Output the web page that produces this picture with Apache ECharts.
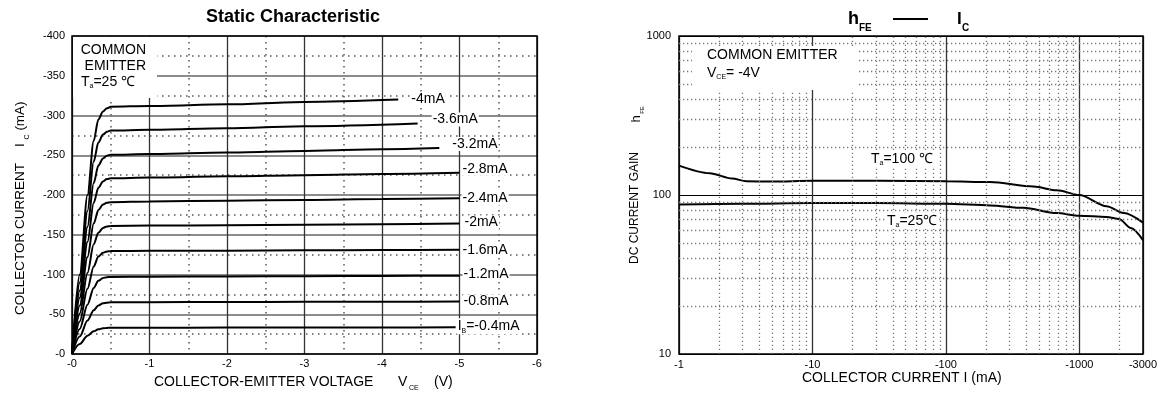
<!DOCTYPE html>
<html><head><meta charset="utf-8">
<script src="https://cdn.jsdelivr.net/npm/echarts@6/dist/echarts.min.js"></script>
<style>html,body{margin:0;padding:0;background:#fff}#c{width:1172px;height:394px}</style>
</head><body><div id="c"></div>
<script>
// ---------- LEFT: Static Characteristic (magnitudes; the datasheet shows them negative) ----------
const vceTicks = [0, 1, 2, 3, 4, 5, 6];           // -V
const icTicks = [0, 50, 100, 150, 200, 250, 300, 350, 400]; // -mA
const ibNames = ['-4mA', '-3.6mA', '-3.2mA', '-2.8mA', '-2.4mA', '-2mA', '-1.6mA', '-1.2mA', '-0.8mA', '-0.4mA'];
// [ -VCE (V), -IC (mA) ]
const ib40 = [[0,0],[0.1,100],[0.2,200],[0.28,268],[0.34,295],[0.4,305],[0.45,309],[0.5,311],[1,312],[2,314],[3,317],[4.21,320]];
const ib36 = [[0,0],[0.1,90],[0.2,180],[0.28,242],[0.34,266],[0.4,276],[0.45,279.5],[0.5,281],[1,282],[2,284],[3,286.5],[4.46,290]];
const ib32 = [[0,0],[0.1,80],[0.2,160],[0.28,215],[0.34,237],[0.4,246],[0.45,249.5],[0.5,250.5],[1,251.5],[2,253.5],[3,255.5],[4,257.5],[4.74,259]];
const ib28 = [[0,0],[0.1,71],[0.2,141],[0.28,190],[0.34,209],[0.4,217],[0.45,220],[0.5,221],[1,222],[2,223.5],[3,225],[4,226.5],[5,228]];
const ib24 = [[0,0],[0.1,61],[0.2,122],[0.28,164],[0.34,181],[0.4,188],[0.45,190.2],[0.5,191],[1,191.8],[2,192.8],[3,193.8],[4,195],[5,196]];
const ib20 = [[0,0],[0.1,51],[0.2,102],[0.28,138],[0.34,152.5],[0.4,158.5],[0.45,160.5],[0.5,161],[1,161.5],[2,162],[3,162.7],[4,163.3],[5,164]];
const ib16 = [[0,0],[0.1,41],[0.2,82],[0.28,110],[0.34,122.5],[0.4,127.5],[0.45,129],[0.5,129.5],[1,129.8],[2,130],[3,130.4],[4,130.7],[5,131]];
const ib12 = [[0,0],[0.1,31.5],[0.2,62],[0.28,83],[0.34,92],[0.4,95.5],[0.45,96.6],[0.5,97],[1,97.3],[2,97.6],[3,97.9],[4,98.2],[5,98.5]];
const ib08 = [[0,0],[0.1,22],[0.2,42],[0.28,55],[0.34,61],[0.4,63.8],[0.45,64.6],[0.5,65],[1,65.2],[2,65.4],[3,65.6],[4,65.8],[5,66]];
const ib04 = [[0,0],[0.1,12.5],[0.2,23],[0.28,28.5],[0.34,31],[0.4,32.3],[0.45,32.8],[0.5,33],[1,33.1],[2,33.2],[3,33.3],[4,33.4],[4.95,33.5]];
const leftCurves = [ib40, ib36, ib32, ib28, ib24, ib20, ib16, ib12, ib08, ib04];

// ---------- RIGHT: hFE vs IC (magnitudes of IC) ----------
const icLogTicks = [1, 10, 100, 1000, 3000];   // -mA
const hfeTicks = [10, 100, 1000];
const hfe100C = [[1,153],[1.7,137],[2.5,127],[3.2,122],[5,121.5],[10,123],[32,123],[100,122],[214,120.5],[453,113],[678,107],[1000,100],[1600,85],[2150,77],[3000,67]];
const hfe25C = [[1,87],[3,88],[10,89],[30,89],[100,88],[214,86],[381,83],[678,77],[1000,74],[1600,72.8],[2000,70.5],[2430,62],[3000,52]];
const minorIc = [2,3,4,5,6,7,8,9,20,30,40,50,60,70,80,90,200,300,400,500,600,700,800,900,2000];
const minorHfe = [20,30,40,50,60,70,80,90,200,300,400,500,600,700,800,900];

// ---------- styles ----------
const FONT = "'Liberation Sans', Arial, Helvetica, sans-serif";
const leftLabelOffsets = [[12,0],[14,-4],[12,-4],[2,-4],[2,0],[4,-1],[2,0],[3,-2],[3,0],[1,-1]];
const subRich = {
  a: {fontSize: 14, fontFamily: FONT, color: '#000'},
  s: {fontSize: 7, fontFamily: FONT, color: '#000', padding: [9, 0, 0, 0]}
};

const chart = echarts.init(document.getElementById('c'));

const leftSeries = leftCurves.map((d, i) => ({
  type: 'line', xAxisIndex: 0, yAxisIndex: 0, data: d, showSymbol: false,
  smooth: 0.3, smoothMonotone: 'x', z: 3, silent: true,
  lineStyle: {color: '#000', width: 2},
  endLabel: {
    show: true, distance: 0, offset: leftLabelOffsets[i],
    formatter: i === leftCurves.length - 1 ? '{a|I}{s|B}{a|=' + ibNames[i] + '}' : '{a|' + ibNames[i] + '}',
    backgroundColor: '#fff', padding: [0, 1], rich: subRich
  }
}));

const option = {
  animation: false,
  backgroundColor: '#fff',
  grid: [
    {left: 72, top: 36, width: 465, height: 318, show: true, borderColor: '#000', borderWidth: 1.5, backgroundColor: 'transparent', z: 4},
    {left: 679, top: 36, width: 464, height: 318, show: true, borderColor: '#000', borderWidth: 1.5, backgroundColor: 'transparent', z: 4}
  ],
  xAxis: [
    {gridIndex: 0, type: 'value', min: vceTicks[0], max: vceTicks[vceTicks.length - 1], interval: 1,
     axisLine: {show: false}, axisTick: {show: false},
     axisLabel: {formatter: v => '-' + v, fontSize: 11, color: '#000', margin: 4, fontFamily: FONT},
     splitLine: {show: true, lineStyle: {color: '#333', width: 1.3}},
     minorTick: {show: false, splitNumber: 2},
     minorSplitLine: {show: true, lineStyle: {color: '#555', width: 1.5, type: [1.5, 4.5]}}},
    {gridIndex: 1, type: 'log', logBase: 10, min: icLogTicks[0], max: icLogTicks[icLogTicks.length - 1],
     axisLine: {show: false}, axisTick: {show: false},
     axisLabel: {formatter: v => '-' + Math.round(v), fontSize: 11, color: '#000', margin: 5, fontFamily: FONT, showMaxLabel: true},
     splitLine: {show: true, lineStyle: {color: '#333', width: 1.3}}}
  ],
  yAxis: [
    {gridIndex: 0, type: 'value', min: icTicks[0], max: icTicks[icTicks.length - 1], interval: 50,
     axisLine: {show: false}, axisTick: {show: false},
     axisLabel: {formatter: v => '-' + v, fontSize: 11, color: '#000', margin: 7, fontFamily: FONT},
     splitLine: {show: true, lineStyle: {color: '#666', width: 1.5}},
     minorTick: {show: false, splitNumber: 2},
     minorSplitLine: {show: true, lineStyle: {color: '#555', width: 1.5, type: [1.5, 4.5]}}},
    {gridIndex: 1, type: 'log', logBase: 10, min: hfeTicks[0], max: hfeTicks[hfeTicks.length - 1],
     axisLine: {show: false}, axisTick: {show: false},
     axisLabel: {formatter: v => String(Math.round(v)), fontSize: 11, color: '#000', margin: 8, fontFamily: FONT},
     splitLine: {show: true, lineStyle: {color: '#000', width: 1.2}}}
  ],
  series: [
    {type: 'line', xAxisIndex: 1, yAxisIndex: 1, data: [[1, 10], [3000, 10]], showSymbol: false, silent: true, z: 1,
     lineStyle: {opacity: 0, width: 0},
     markLine: {silent: true, symbol: ['none', 'none'], label: {show: false}, animation: false,
       lineStyle: {color: '#777', width: 1.3, type: [1.3, 2.7]},
       emphasis: {disabled: true},
       data: minorIc.map(v => ({xAxis: v})).concat(minorHfe.map(v => ({yAxis: v})))}},
    ...leftSeries,
    {type: 'line', xAxisIndex: 1, yAxisIndex: 1, data: hfe100C, showSymbol: false, smooth: 0.3, smoothMonotone: 'x', z: 3, silent: true,
     lineStyle: {color: '#000', width: 2}},
    {type: 'line', xAxisIndex: 1, yAxisIndex: 1, data: hfe25C, showSymbol: false, smooth: 0.3, smoothMonotone: 'x', z: 3, silent: true,
     lineStyle: {color: '#000', width: 2}}
  ],
  graphic: [
    // white boxes behind the condition notes
    {type: 'rect', shape: {x: 73, y: 37, width: 84, height: 61}, style: {fill: '#fff'}, z: 50, silent: true},
    {type: 'rect', shape: {x: 692, y: 46, width: 166, height: 44}, style: {fill: '#fff'}, z: 50, silent: true},
    // left notes
    {type: 'text', x: 146, y: 50, z: 60, style: {text: 'COMMON', font: '14px ' + FONT, fill: '#000', textAlign: 'right', textVerticalAlign: 'middle'}},
    {type: 'text', x: 146, y: 66, z: 60, style: {text: 'EMITTER', font: '14px ' + FONT, fill: '#000', textAlign: 'right', textVerticalAlign: 'middle'}},
    {type: 'text', x: 81, y: 82, z: 60, style: {text: '{a|T}{s|a}{a|=25 ℃}', rich: subRich, textAlign: 'left', textVerticalAlign: 'middle'}},
    // right notes
    {type: 'text', x: 707, y: 55, z: 60, style: {text: 'COMMON EMITTER', font: '14px ' + FONT, fill: '#000', textAlign: 'left', textVerticalAlign: 'middle'}},
    {type: 'text', x: 707, y: 73, z: 60, style: {text: '{a|V}{s|CE}{a|= -4V}', rich: subRich, textAlign: 'left', textVerticalAlign: 'middle'}},
    {type: 'text', x: 869, y: 159, z: 60, style: {text: '{a|T}{s|a}{a|=100 ℃}', rich: subRich, backgroundColor: '#fff', padding: [0, 2], textAlign: 'left', textVerticalAlign: 'middle'}},
    {type: 'text', x: 885, y: 221, z: 60, style: {text: '{a|T}{s|a}{a|=25℃}', rich: subRich, backgroundColor: '#fff', padding: [0, 2], textAlign: 'left', textVerticalAlign: 'middle'}},
    // titles
    {type: 'text', x: 293, y: 17, style: {text: 'Static Characteristic', font: 'bold 18px ' + FONT, fill: '#000', textAlign: 'center', textVerticalAlign: 'middle'}},
    {type: 'text', x: 848, y: 19, style: {text: 'h', font: 'bold 18px ' + FONT, fill: '#000', textAlign: 'left', textVerticalAlign: 'middle'}},
    {type: 'text', x: 859, y: 28, style: {text: 'FE', font: 'bold 10px ' + FONT, fill: '#000', textAlign: 'left', textVerticalAlign: 'middle'}},
    {type: 'line', shape: {x1: 893, y1: 19, x2: 928, y2: 19}, style: {stroke: '#000', lineWidth: 2}},
    {type: 'text', x: 957, y: 19, style: {text: 'I', font: 'bold 17px ' + FONT, fill: '#000', textAlign: 'left', textVerticalAlign: 'middle'}},
    {type: 'text', x: 962, y: 28, style: {text: 'C', font: 'bold 10px ' + FONT, fill: '#000', textAlign: 'left', textVerticalAlign: 'middle'}},
    // left axis names
    {type: 'text', x: 154, y: 382, style: {text: 'COLLECTOR-EMITTER VOLTAGE', font: '14px ' + FONT, fill: '#000', textAlign: 'left', textVerticalAlign: 'middle'}},
    {type: 'text', x: 398, y: 382, style: {text: 'V', font: '14px ' + FONT, fill: '#000', textAlign: 'left', textVerticalAlign: 'middle'}},
    {type: 'text', x: 409, y: 388, style: {text: 'CE', font: '7px ' + FONT, fill: '#000', textAlign: 'left', textVerticalAlign: 'middle'}},
    {type: 'text', x: 434, y: 382, style: {text: '(V)', font: '14px ' + FONT, fill: '#000', textAlign: 'left', textVerticalAlign: 'middle'}},
    {type: 'text', x: 20, y: 239, rotation: Math.PI / 2, style: {text: 'COLLECTOR CURRENT', font: '13.5px ' + FONT, fill: '#000', textAlign: 'center', textVerticalAlign: 'middle'}},
    {type: 'text', x: 20, y: 145, rotation: Math.PI / 2, style: {text: 'I', font: '13.5px ' + FONT, fill: '#000', textAlign: 'center', textVerticalAlign: 'middle'}},
    {type: 'text', x: 27, y: 137, rotation: Math.PI / 2, style: {text: 'C', font: '7px ' + FONT, fill: '#000', textAlign: 'center', textVerticalAlign: 'middle'}},
    {type: 'text', x: 20, y: 116, rotation: Math.PI / 2, style: {text: '(mA)', font: '13.5px ' + FONT, fill: '#000', textAlign: 'center', textVerticalAlign: 'middle'}},
    // right axis names
    {type: 'text', x: 802, y: 378, style: {text: 'COLLECTOR CURRENT I (mA)', font: '14px ' + FONT, fill: '#000', textAlign: 'left', textVerticalAlign: 'middle'}},
    {type: 'text', x: 635, y: 208, rotation: Math.PI / 2, style: {text: 'DC CURRENT GAIN', font: '12px ' + FONT, fill: '#000', textAlign: 'center', textVerticalAlign: 'middle'}},
    {type: 'text', x: 636, y: 119, rotation: Math.PI / 2, style: {text: 'h', font: '13px ' + FONT, fill: '#000', textAlign: 'center', textVerticalAlign: 'middle'}},
    {type: 'text', x: 642, y: 110, rotation: Math.PI / 2, style: {text: 'FE', font: '6px ' + FONT, fill: '#000', textAlign: 'center', textVerticalAlign: 'middle'}}
  ]
};
chart.setOption(option);
</script>
</body></html>
